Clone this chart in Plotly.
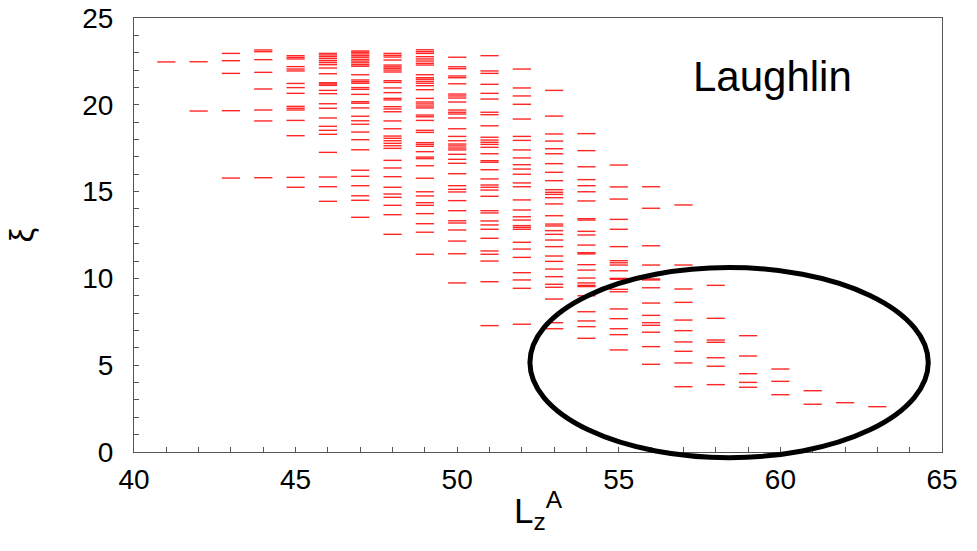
import plotly.graph_objects as go

# Entanglement levels xi for each L_z^A sector
xi_41 = [22.47]
xi_42 = [22.48, 19.64]
xi_43 = [22.96, 22.54, 21.81, 19.66, 15.78]
xi_44 = [23.16, 23.06, 22.6, 21.87, 20.91, 19.7, 19.07, 15.8]
xi_45 = [22.83, 22.73, 22.64, 22.2, 22.06, 21.95, 21.23, 20.99, 20.66, 19.91, 19.80, 19.70,
         19.1, 18.22, 15.82, 15.25]
xi_46 = [22.96, 22.87, 22.77, 22.66, 22.54, 22.43, 22.31, 22.12, 21.79, 21.27, 21.2, 21.12,
         20.83, 20.64, 20.06, 19.8, 19.24, 18.76, 18.53, 18.3, 17.26, 15.84, 15.28, 14.44]
xi_47 = [23.1, 23.02, 22.93, 22.83, 22.74, 22.62, 22.52, 22.42, 22.31, 22.22, 21.73, 21.43,
         21.33, 21.24, 20.99, 20.89, 20.6, 20.18, 20.09, 19.82, 19.34, 19.08, 18.88, 18.43,
         17.99, 17.41, 16.23, 15.88, 15.34, 14.76, 14.5, 13.52]
xi_48 = [22.96, 22.85, 22.75, 22.58, 22.29, 22.19, 22.10, 22.0, 21.89, 21.39, 21.29, 20.97,
         20.70, 20.37, 20.28, 19.89, 19.76, 19.6, 19.07, 18.62, 18.2, 18.07, 17.93, 17.78,
         17.64, 17.49, 16.8, 16.36, 15.86, 15.25, 14.86, 14.67, 14.21, 13.67, 12.54]
xi_49 = [23.17, 23.06, 22.96, 22.77, 22.64, 22.52, 22.39, 22.29, 21.73, 21.56, 21.47, 21.35,
         21.24, 21.1, 20.87, 20.37, 20.16, 20.05, 19.93, 19.82, 19.41, 19.31, 19.1, 18.53,
         18.41, 17.82, 17.72, 17.61, 17.3, 16.99, 16.9, 16.49, 15.77, 14.99, 14.75, 14.36,
         14.21, 13.73, 13.15, 12.66, 11.39]
xi_50 = [22.74, 22.19, 22.08, 21.66, 21.56, 21.21, 20.62, 20.51, 20.39, 20.16, 19.7, 19.57,
         19.47, 19.24, 18.62, 18.18, 17.93, 17.74, 17.63, 17.51, 17.4, 17.15, 16.86, 16.63,
         16.03, 15.34, 15.13, 14.98, 14.48, 13.9, 13.32, 13.19, 12.79, 12.15, 11.42, 9.74]
xi_51 = [22.83, 21.95, 21.81, 21.18, 20.66, 20.33, 19.57, 19.43, 18.79, 18.13, 17.97, 17.84,
         17.72, 17.55, 17.18, 16.78, 16.69, 16.26, 15.73, 15.38, 15.25, 15.09, 14.73, 13.9,
         13.77, 13.31, 13.08, 12.83, 12.31, 11.58, 11.39, 11.0, 9.81, 7.28]
xi_52 = [22.06, 20.97, 20.51, 20.03, 19.18, 18.18, 17.95, 17.4, 16.94, 16.55, 16.3, 16.0,
         15.5, 15.28, 14.52, 13.94, 13.55, 13.36, 13.04, 12.94, 12.83, 12.08, 11.69, 11.21,
         10.33, 9.91, 9.43, 7.36]
xi_53 = [20.83, 19.35, 18.32, 17.91, 17.47, 17.18, 16.61, 16.11, 15.63, 15.11, 14.96, 14.84,
         14.65, 14.29, 13.61, 13.13, 13.02, 12.75, 12.54, 12.21, 11.83, 11.29, 10.98, 10.54,
         10.1, 9.66, 9.49, 8.81, 7.45, 7.1]
xi_54 = [18.34, 17.36, 16.43, 15.69, 15.34, 14.99, 14.46, 13.44, 13.36, 12.71, 12.5, 11.92,
         11.48, 11.41, 10.79, 10.48, 10.02, 9.74, 9.6, 9.53, 9.0, 8.08, 7.55, 7.22, 6.55]
xi_55 = [16.53, 15.27, 14.57, 13.4, 12.83, 11.83, 11.02, 10.9, 10.77, 10.44, 10.0, 9.95,
         9.37, 9.23, 8.24, 7.68, 7.1, 6.76, 5.88]
xi_56 = [15.28, 14.04, 11.88, 10.77, 9.97, 9.91, 9.46, 8.58, 7.87, 7.45, 7.30, 6.9, 6.07, 5.05]
xi_57 = [14.23, 10.77, 9.39, 8.62, 7.6, 6.99, 6.34, 5.8, 5.13, 3.76]
xi_58 = [9.6, 7.7, 6.45, 6.32, 5.43, 4.94, 3.88]
xi_59 = [6.7, 5.53, 4.51, 4.01, 3.73]
xi_60 = [4.78, 4.07, 3.3]
xi_61 = [3.53, 2.75]
xi_62 = [2.84]
xi_63 = [2.61]

Lz_sectors = list(range(41, 64))
xi_sectors = [xi_41, xi_42, xi_43, xi_44, xi_45, xi_46, xi_47, xi_48, xi_49, xi_50, xi_51,
              xi_52, xi_53, xi_54, xi_55, xi_56, xi_57, xi_58, xi_59, xi_60, xi_61, xi_62, xi_63]

x_tick_vals = [40, 45, 50, 55, 60, 65]
y_tick_vals = [0, 5, 10, 15, 20, 25]

xs, ys = [], []
for L, levels in zip(Lz_sectors, xi_sectors):
    for v in levels:
        xs.append(L)
        ys.append(v)

FONT = "Arial, Liberation Sans, Helvetica, sans-serif"

fig = go.Figure()
fig.add_trace(go.Scatter(
    x=xs, y=ys, mode="markers",
    marker=dict(symbol="line-ew", size=13, color="red",
                line=dict(color="rgba(255,0,0,0.85)", width=1.4)),
    showlegend=False, hoverinfo="x+y",
))

axis_common = dict(
    showline=True, mirror=True, linecolor="#555555", linewidth=1,
    ticks="inside", ticklen=5, tickcolor="#555555", tickwidth=1,
    showgrid=False, zeroline=False, automargin=False,
    tickfont=dict(family=FONT, size=28, color="black"),
)

fig.update_xaxes(
    range=[40, 65], tickvals=x_tick_vals,
    minor=dict(ticks="inside", dtick=1, ticklen=5, tickcolor="#555555", showgrid=False),
    title=dict(text="L<sub>z</sub><sup>A</sup>", font=dict(family=FONT, size=35, color="black"),
               standoff=4),
    ticklabelstandoff=2,
    **axis_common,
)
fig.update_yaxes(
    range=[0, 25], tickvals=y_tick_vals,
    minor=dict(ticks="inside", dtick=1, ticklen=5, tickcolor="#555555", showgrid=False),
    title=dict(text="ξ", font=dict(family=FONT, size=33, color="black"), standoff=38),
    ticklabelstandoff=14,
    **axis_common,
)

# Highlight ellipse (paper coordinates so it can extend beyond the axis)
fig.add_shape(type="circle", xref="paper", yref="paper",
              x0=0.490, x1=0.983, y0=-0.013, y1=0.425,
              line=dict(color="black", width=5))

fig.add_annotation(text="Laughlin", xref="paper", yref="paper",
                   x=0.79, y=0.865, xanchor="center", yanchor="middle",
                   showarrow=False, font=dict(family=FONT, size=42, color="black"))

fig.update_layout(
    width=977, height=551,
    margin=dict(l=134, r=35, t=18, b=99),
    plot_bgcolor="white", paper_bgcolor="white",
)

fig.write_html("out.html")
